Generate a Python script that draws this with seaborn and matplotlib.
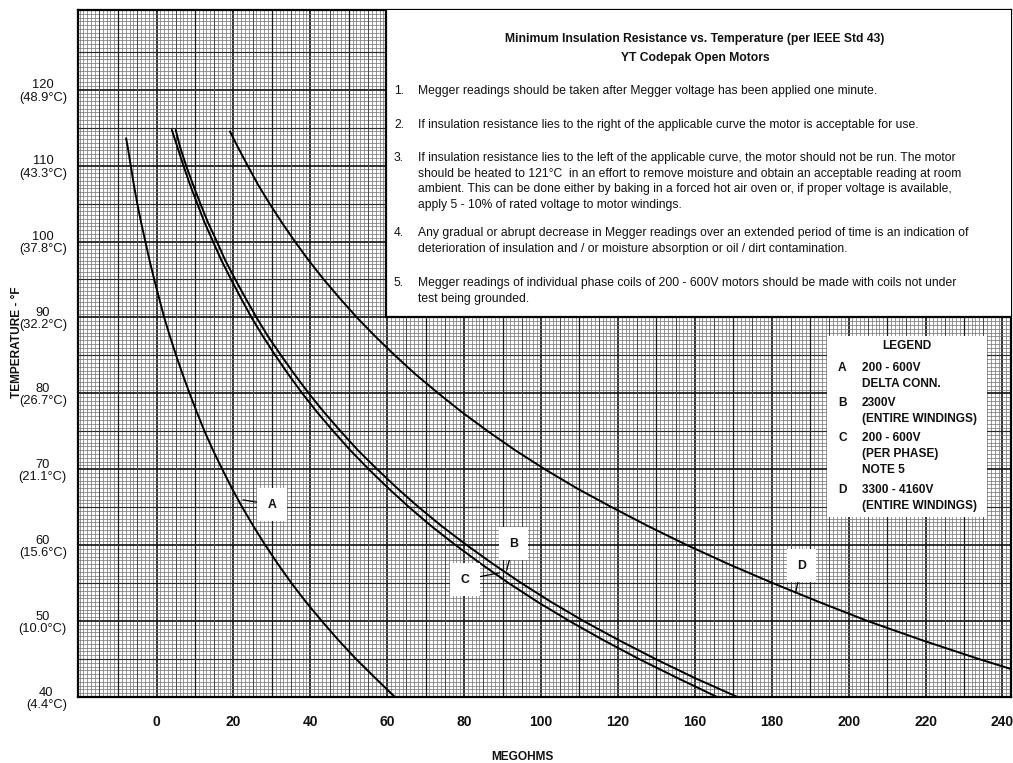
import matplotlib
matplotlib.use("Agg")
import matplotlib.pyplot as plt
import seaborn as sns
import numpy as np
import pandas as pd
from matplotlib.patches import Rectangle

# ---------------- data ----------------
curve_names = ["A", "B", "C", "D"]

temp_A = [113.6, 112.5, 110, 107.5, 105, 102.5, 100, 97.5, 95, 92.5, 90, 87.5, 85, 82.5, 80,
          77.5, 75, 72.5, 70, 67.5, 65, 62.5, 60, 57.5, 55, 52.5, 50, 47.5, 45, 42.5, 40]
megohm_A = [-7.9, -7.5, -6.7, -5.9, -5.0, -4.0, -2.9, -1.8, -0.6, 0.7, 2.0, 3.5, 5.1, 6.8, 8.6,
            10.5, 12.5, 14.7, 17.1, 19.6, 22.3, 25.2, 28.3, 31.6, 35.1, 38.9, 43.0, 47.3, 51.9, 56.9, 62.0]

temp_B = [114.7, 112.5, 110, 107.5, 105, 102.5, 100, 97.5, 95, 92.5, 90, 87.5, 85, 82.5, 80,
          77.5, 75, 72.5, 70, 67.5, 65, 62.5, 60, 57.5, 55, 52.5, 50, 47.5, 45, 42.5, 40]
megohm_B = [5.0, 6.1, 7.7, 9.5, 11.4, 13.4, 15.7, 17.9, 20.5, 23.2, 26.0, 29.0, 32.4, 35.9, 39.6,
            43.6, 47.9, 52.4, 57.4, 62.6, 68.2, 74.2, 80.7, 87.6, 94.9, 102.7, 111.1, 120.2, 129.8, 140.0, 151.1]

temp_C = [114.7, 112.5, 110, 107.5, 105, 102.5, 100, 97.5, 95, 92.5, 90, 87.5, 85, 82.5, 80,
          77.5, 75, 72.5, 70, 67.5, 65, 62.5, 60, 57.5, 55, 52.5, 50, 47.5, 45, 42.5, 40]
megohm_C = [4.0, 5.4, 7.0, 8.7, 10.6, 12.5, 14.7, 16.9, 19.4, 22.0, 24.7, 27.7, 30.9, 34.3, 37.9,
            41.8, 46.0, 50.4, 55.2, 60.3, 65.7, 71.5, 77.8, 84.5, 91.6, 99.2, 107.4, 116.2, 125.5, 135.5, 145.8]

temp_D = [114.5, 112.5, 110, 107.5, 105, 102.5, 100, 97.5, 95, 92.5, 90, 87.5, 85, 82.5, 80,
          77.5, 75, 72.5, 70, 67.5, 65, 62.5, 60, 57.5, 55, 52.5, 50, 47.5, 45, 43.6]
megohm_D = [19.1, 21.1, 23.7, 26.4, 29.4, 32.6, 36.0, 39.6, 43.5, 47.7, 52.1, 56.9, 62.0, 67.4, 73.3,
            79.5, 86.2, 93.3, 101.0, 109.3, 118.4, 127.9, 138.0, 148.8, 160.3, 172.4, 185.0, 199.0, 213.9, 222.8]

x_tick_pos = [0, 20, 40, 60, 80, 100, 120, 140, 160, 180, 200, 220]
x_tick_labels = ["0", "20", "40", "60", "80", "100", "120", "160", "180", "200", "220", "240"]
y_tick_pos = [40, 50, 60, 70, 80, 90, 100, 110, 120]
y_tick_labels = ["40\n(4.4°C)", "50\n(10.0°C)", "60\n(15.6°C)", "70\n(21.1°C)", "80\n(26.7°C)",
                 "90\n(32.2°C)", "100\n(37.8°C)", "110\n(43.3°C)", "120\n(48.9°C)"]

title_lines = ["Minimum Insulation Resistance vs. Temperature (per IEEE Std 43)",
               "YT Codepak Open Motors"]
notes = [
    ("1.", ["Megger readings should be taken after Megger voltage has been applied one minute."]),
    ("2.", ["If insulation resistance lies to the right of the applicable curve the motor is acceptable for use."]),
    ("3.", ["If insulation resistance lies to the left of the applicable curve, the motor should not be run. The motor",
            "should be heated to 121°C  in an effort to remove moisture and obtain an acceptable reading at room",
            "ambient. This can be done either by baking in a forced hot air oven or, if proper voltage is available,",
            "apply 5 - 10% of rated voltage to motor windings."]),
    ("4.", ["Any gradual or abrupt decrease in Megger readings over an extended period of time is an indication of",
            "deterioration of insulation and / or moisture absorption or oil / dirt contamination."]),
    ("5.", ["Megger readings of individual phase coils of 200 - 600V motors should be made with coils not under",
            "test being grounded."]),
]
legend_entries = [
    ("A", ["200 - 600V", "DELTA CONN."]),
    ("B", ["2300V", "(ENTIRE WINDINGS)"]),
    ("C", ["200 - 600V", "(PER PHASE)", "NOTE 5"]),
    ("D", ["3300 - 4160V", "(ENTIRE WINDINGS)"]),
]

# ---------------- layout helpers (pixel -> data) ----------------
W, H = 1013, 763
def dx(px):
    return (px - 156.5) / 3.845
def dy(py):
    return 120 - (py - 88) / 7.625

sns.set_theme(style="white")
plt.rcParams["font.family"] = ["Liberation Sans", "DejaVu Sans"]
TXT = "#111111"

fig = plt.figure(figsize=(W / 100, H / 100), dpi=100)
ax = fig.add_axes([78 / W, 1 - 697 / H, (1011 - 78) / W, (697 - 10) / H])

xmin, xmax = dx(78), dx(1011)
ymin, ymax = 40, dy(10)
ax.set_xlim(xmin, xmax)
ax.set_ylim(ymin, ymax)

# ---------------- graph-paper grid ----------------
ax.set_axisbelow(True)
ax.set_xticks(x_tick_pos)
ax.set_xticklabels(x_tick_labels)
ax.set_yticks(y_tick_pos)
ax.set_yticklabels(y_tick_labels)
ax.set_xticks(np.arange(-20, 223, 1), minor=True)
ax.set_yticks(np.arange(40, 131, 0.5), minor=True)
ax.grid(which="minor", color="#707070", lw=0.5)
ax.grid(which="major", color="#111111", lw=1.2)
for v in np.arange(-20, 223, 5):
    if v % 20 == 0:
        continue
    if v % 10 == 0:
        ax.axvline(v, color="#1a1a1a", lw=0.9, zorder=0.8)
    else:
        ax.axvline(v, color="#444444", lw=0.65, zorder=0.8)
for h in np.arange(45, 131, 10):
    ax.axhline(h, color="#2a2a2a", lw=0.85, zorder=0.8)

ax.tick_params(which="both", length=0)
ax.tick_params(axis="x", pad=13, labelsize=10, labelcolor=TXT)
ax.tick_params(axis="y", pad=8, labelsize=9.3, labelcolor=TXT)
for lab in ax.get_xticklabels():
    lab.set_fontweight("bold")
for lab in ax.get_yticklabels():
    lab.set_multialignment("center")
    lab.set_linespacing(1.05)
for sp in ax.spines.values():
    sp.set_color("black")
    sp.set_linewidth(1.6)

# ---------------- curves ----------------
df = pd.concat([
    pd.DataFrame({"megohms": megohm_A, "temp": temp_A, "curve": "A"}),
    pd.DataFrame({"megohms": megohm_B, "temp": temp_B, "curve": "B"}),
    pd.DataFrame({"megohms": megohm_C, "temp": temp_C, "curve": "C"}),
    pd.DataFrame({"megohms": megohm_D, "temp": temp_D, "curve": "D"}),
], ignore_index=True)
sns.lineplot(data=df, x="megohms", y="temp", hue="curve", estimator=None, sort=False,
             palette={c: "black" for c in curve_names}, legend=False, lw=1.4, ax=ax, zorder=2)
ax.set_xlabel("")
ax.set_ylabel("")

# ---------------- notes box ----------------
ax.add_patch(Rectangle((dx(386), dy(316)), 300, 50, facecolor="white", edgecolor="black",
                       lw=1.6, zorder=3))
ax.text(dx(695), dy(37), title_lines[0], ha="center", va="center", fontsize=8.75,
        fontweight="bold", color=TXT, zorder=4)
ax.text(dx(695), dy(56), title_lines[1], ha="center", va="center", fontsize=8.75,
        fontweight="bold", color=TXT, zorder=4)
note_rows = [[89], [123], [157, 173, 188, 204], [232, 248], [282, 298]]
for (num, lines), rows in zip(notes, note_rows):
    ax.text(dx(394), dy(rows[0]), num, ha="left", va="center", fontsize=8.7, color=TXT, zorder=4)
    for line, r in zip(lines, rows):
        ax.text(dx(418), dy(r), line, ha="left", va="center", fontsize=8.7, color=TXT, zorder=4)

# ---------------- legend box ----------------
ax.add_patch(Rectangle((dx(827), dy(517)), dx(987) - dx(827), dy(335) - dy(517),
                       facecolor="white", edgecolor="none", zorder=3))
ax.text(dx(907), dy(345), "LEGEND", ha="center", va="center", fontsize=8.6,
        fontweight="bold", color=TXT, zorder=4)
leg_rows = [[368, 384], [403, 419], [438, 454, 470], [490, 506]]
for (letter, lines), rows in zip(legend_entries, leg_rows):
    ax.text(dx(838), dy(rows[0]), letter, ha="left", va="center", fontsize=8.6,
            fontweight="bold", color=TXT, zorder=4)
    for line, r in zip(lines, rows):
        ax.text(dx(862), dy(r), line, ha="left", va="center", fontsize=8.6,
                fontweight="bold", color=TXT, zorder=4)

# ---------------- curve labels ----------------
label_specs = [
    ("A", (272, 505), (243, 500)),
    ("B", (513.5, 544), (506.7, 570.7)),
    ("C", (465.3, 580), (499.3, 573.3)),
    ("D", (801.4, 566), (795.6, 593.4)),
]
for letter, (tx, ty), (px, py) in label_specs:
    ax.annotate(letter, xy=(dx(px), dy(py)), xytext=(dx(tx), dy(ty)),
                ha="center", va="center", fontsize=8.8, fontweight="bold", color=TXT, zorder=5,
                bbox=dict(boxstyle="square,pad=0.85", fc="white", ec="none"),
                arrowprops=dict(arrowstyle="-", color="black", lw=0.9, shrinkA=0, shrinkB=0))

# ---------------- axis titles ----------------
fig.text(522 / W, 1 - 757 / H, "MEGOHMS", ha="center", va="center", fontsize=8.6,
         fontweight="bold", color=TXT)
fig.text(17 / W, 1 - 342 / H, "TEMPERATURE - °F", ha="center", va="center", fontsize=8.6,
         fontweight="bold", rotation=90, color=TXT)

fig.savefig("out.png", dpi=100, facecolor="white")
